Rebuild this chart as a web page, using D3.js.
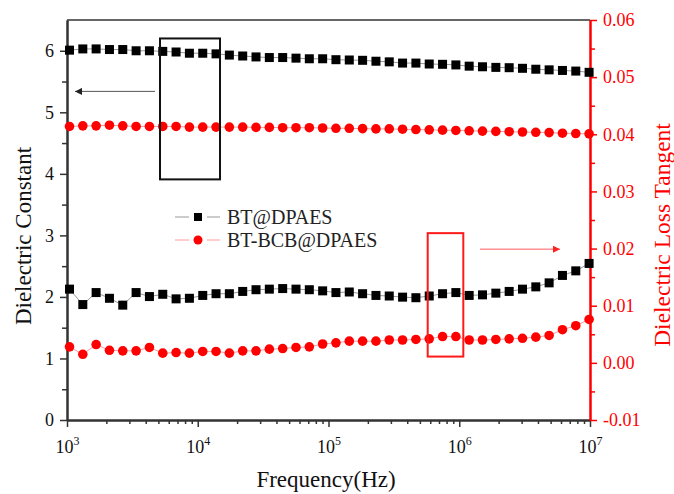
<!DOCTYPE html>
<html>
<head>
<meta charset="utf-8">
<script src="https://cdn.jsdelivr.net/npm/d3@7"></script>
<style>
  body { margin: 0; background: #fff; }
  svg { display: block; }
  svg text { font-family: "Liberation Serif", "Times New Roman", serif; }
</style>
</head>
<body>
<svg id="chart"></svg>
<script>
// Frequencies (Hz), one per measured point
const freq = [1045, 1321, 1670, 2112, 2670, 3377, 4270, 5400, 6828, 8634,
  10920, 13800, 17450, 22070, 27900, 35280, 44620, 56420, 71340, 90200,
  114000, 144200, 182300, 230600, 291500, 368600, 466100, 589400, 745300, 942100,
  1191000, 1506000, 1905000, 2409000, 3046000, 3851000, 4869000, 6157000, 7785000, 9842000];

// Dielectric constant (left axis)
const dkBT = [6.01, 6.03, 6.03, 6.02, 6.02, 6.00, 6.00, 5.99, 5.98, 5.96,
  5.96, 5.95, 5.93, 5.915, 5.90, 5.89, 5.89, 5.88, 5.87, 5.87,
  5.855, 5.85, 5.845, 5.83, 5.82, 5.80, 5.80, 5.785, 5.78, 5.77,
  5.75, 5.74, 5.73, 5.725, 5.715, 5.70, 5.69, 5.68, 5.67, 5.65];
const dkBCB = [4.77, 4.78, 4.78, 4.79, 4.78, 4.77, 4.77, 4.77, 4.77, 4.76,
  4.76, 4.76, 4.76, 4.76, 4.755, 4.755, 4.75, 4.75, 4.75, 4.745,
  4.74, 4.74, 4.735, 4.73, 4.73, 4.725, 4.72, 4.715, 4.71, 4.705,
  4.70, 4.695, 4.69, 4.685, 4.68, 4.675, 4.67, 4.66, 4.655, 4.65];

// Dielectric loss tangent (right axis)
const tanBT = [0.0129, 0.0102, 0.0123, 0.0113, 0.0101, 0.0123, 0.0116, 0.0120, 0.0112, 0.0113,
  0.0118, 0.0121, 0.0121, 0.0125, 0.0128, 0.0129, 0.0130, 0.0129, 0.0128, 0.0126,
  0.0123, 0.0124, 0.0121, 0.0118, 0.0117, 0.0115, 0.0114, 0.0117, 0.0121, 0.0123,
  0.0118, 0.0119, 0.0122, 0.0125, 0.0129, 0.0133, 0.0140, 0.0153, 0.0161, 0.0174];
const tanBCB = [0.0028, 0.0015, 0.0032, 0.0022, 0.0021, 0.0021, 0.0027, 0.0017, 0.0018, 0.0017,
  0.0020, 0.0020, 0.0017, 0.0021, 0.0021, 0.0024, 0.0025, 0.0027, 0.0028, 0.0033,
  0.0035, 0.0038, 0.0038, 0.0038, 0.0040, 0.0040, 0.0041, 0.0042, 0.0046, 0.0046,
  0.0040, 0.0040, 0.0041, 0.0042, 0.0043, 0.0045, 0.0048, 0.0058, 0.0065, 0.0076];

const seriesNames = ['BT@DPAES', 'BT-BCB@DPAES'];

// Tick values
const xDecades = [1e3, 1e4, 1e5, 1e6, 1e7];
const yLeftTicks = [0, 1, 2, 3, 4, 5, 6];
const yRightTicks = [-0.01, 0, 0.01, 0.02, 0.03, 0.04, 0.05, 0.06];

// Annotations: boxes [x0, x1, y0, y1] and arrows [xFrom, xTo, y]
const boxLeft = [5145, 14800, 3.91, 6.2];
const boxRight = [573800, 1074000, 0.0011, 0.0227];
const arrowLeft = [4710, 1151, 5.34];
const arrowRight = [1441000, 5896000, 0.0199];

const w = 674, h = 494;
const plotLeft = 67, plotRight = 590, plotTop = 20, plotBottom = 420;

const svg = d3.select('#chart').attr('width', w).attr('height', h);

const xScale = d3.scaleLog().domain([1e3, 1e7]).range([plotLeft, plotRight]);
const yLeft = d3.scaleLinear().domain([0, 6.5]).range([plotBottom, plotTop]);
const yRight = d3.scaleLinear().domain([-0.01, 0.06]).range([plotBottom, plotTop]);

// arrow heads
const defs = svg.append('defs');
const addHead = (id, color) => defs.append('marker')
  .attr('id', id).attr('viewBox', '0 0 10 10').attr('refX', 10).attr('refY', 5)
  .attr('markerWidth', 9).attr('markerHeight', 7).attr('markerUnits', 'userSpaceOnUse')
  .attr('orient', 'auto')
  .append('path').attr('d', 'M0,0L10,5L0,10Z').attr('fill', color);
addHead('headBlack', '#222');
addHead('headRed', '#ff2020');

// ---- axes ----
const styleAxis = (g, color) => {
  g.attr('color', color).attr('font-size', null).attr('font-family', null);
  g.select('.domain').attr('stroke-width', 2);
  g.selectAll('.tick line').attr('stroke-width', 1.5);
  g.selectAll('.tick text').attr('font-size', 18);
};

// bottom
const minorX = [];
[1e3, 1e4, 1e5, 1e6].forEach(d => { for (let m = 2; m < 10; m++) minorX.push(d * m); });
svg.append('g').attr('transform', `translate(0, ${plotBottom})`)
  .call(d3.axisBottom(xScale).tickValues(minorX).tickSize(4).tickSizeOuter(0).tickFormat(''))
  .call(g => styleAxis(g, '#333'));
const gx = svg.append('g').attr('transform', `translate(0, ${plotBottom})`)
  .call(d3.axisBottom(xScale).tickValues(xDecades).tickSize(7).tickSizeOuter(0))
  .call(g => styleAxis(g, '#333'));
gx.selectAll('.tick text').attr('y', 33).attr('dy', null).attr('fill', '#111')
  .each(function (d) {
    const t = d3.select(this).text('');
    t.append('tspan').text('10');
    t.append('tspan').attr('dy', -8).attr('font-size', 12).text(Math.round(Math.log10(d)));
  });

// left
svg.append('g').attr('transform', `translate(${plotLeft}, 0)`)
  .call(d3.axisLeft(yLeft).tickValues(d3.range(0.5, 6, 1)).tickSize(5).tickSizeOuter(0).tickFormat(''))
  .call(g => styleAxis(g, '#333'));
svg.append('g').attr('transform', `translate(${plotLeft}, 0)`)
  .call(d3.axisLeft(yLeft).tickValues(yLeftTicks).tickSize(7).tickPadding(6).tickSizeOuter(0)
    .tickFormat(d3.format('d')))
  .call(g => styleAxis(g, '#333'))
  .selectAll('.tick text').attr('fill', '#111');

// right
svg.append('g').attr('transform', `translate(${plotRight}, 0)`)
  .call(d3.axisRight(yRight).tickValues(d3.range(-0.005, 0.06, 0.01)).tickSize(5).tickSizeOuter(0).tickFormat(''))
  .call(g => styleAxis(g, '#ff0000'));
svg.append('g').attr('transform', `translate(${plotRight}, 0)`)
  .call(d3.axisRight(yRight).tickValues(yRightTicks).tickSize(7).tickPadding(6).tickSizeOuter(0)
    .tickFormat(d => d.toFixed(2)))
  .call(g => styleAxis(g, '#ff0000'));

// top frame line
svg.append('line').attr('x1', plotLeft).attr('x2', plotRight).attr('y1', plotTop).attr('y2', plotTop)
  .attr('stroke', '#333').attr('stroke-width', 1.5);

// axis titles
svg.append('text').attr('x', 326).attr('y', 487).attr('text-anchor', 'middle')
  .attr('font-size', 23).attr('fill', '#111').text('Frequency(Hz)');
svg.append('text').attr('transform', 'translate(31, 236) rotate(-90)').attr('text-anchor', 'middle')
  .attr('font-size', 23).attr('fill', '#111').text('Dielectric Constant');
svg.append('text').attr('transform', 'translate(670, 235) rotate(-90)').attr('text-anchor', 'middle')
  .attr('font-size', 23.5).attr('fill', '#ff0000').text('Dielectric Loss Tangent');

// ---- series ----
const plotSeries = (values, yScale, kind) => {
  const pts = freq.map((f, i) => [xScale(f), yScale(values[i])]);
  const black = kind === 'square';
  svg.append('path').attr('d', d3.line()(pts)).attr('fill', 'none')
    .attr('stroke', black ? '#999' : '#ff9a9a').attr('stroke-width', 1);
  if (black) {
    svg.append('g').selectAll('rect').data(pts).enter().append('rect')
      .attr('x', d => d[0] - 4.5).attr('y', d => d[1] - 4.5)
      .attr('width', 9).attr('height', 9).attr('fill', '#000');
  } else {
    svg.append('g').selectAll('circle').data(pts).enter().append('circle')
      .attr('cx', d => d[0]).attr('cy', d => d[1]).attr('r', 4.8).attr('fill', '#ff0000');
  }
};
plotSeries(dkBT, yLeft, 'square');
plotSeries(dkBCB, yLeft, 'circle');
plotSeries(tanBT, yRight, 'square');
plotSeries(tanBCB, yRight, 'circle');

// ---- annotations ----
svg.append('rect')
  .attr('x', xScale(boxLeft[0])).attr('y', yLeft(boxLeft[3]))
  .attr('width', xScale(boxLeft[1]) - xScale(boxLeft[0]))
  .attr('height', yLeft(boxLeft[2]) - yLeft(boxLeft[3]))
  .attr('fill', 'none').attr('stroke', '#111').attr('stroke-width', 2);
svg.append('rect')
  .attr('x', xScale(boxRight[0])).attr('y', yRight(boxRight[3]))
  .attr('width', xScale(boxRight[1]) - xScale(boxRight[0]))
  .attr('height', yRight(boxRight[2]) - yRight(boxRight[3]))
  .attr('fill', 'none').attr('stroke', '#ff1a1a').attr('stroke-width', 2);

svg.append('line')
  .attr('x1', xScale(arrowLeft[0])).attr('x2', xScale(arrowLeft[1]))
  .attr('y1', yLeft(arrowLeft[2])).attr('y2', yLeft(arrowLeft[2]))
  .attr('stroke', '#555').attr('stroke-width', 1).attr('marker-end', 'url(#headBlack)');
svg.append('line')
  .attr('x1', xScale(arrowRight[0])).attr('x2', xScale(arrowRight[1]))
  .attr('y1', yRight(arrowRight[2])).attr('y2', yRight(arrowRight[2]))
  .attr('stroke', '#ff5a5a').attr('stroke-width', 1).attr('marker-end', 'url(#headRed)');

// ---- legend ----
const legend = svg.append('g').attr('transform', 'translate(175, 217)');
seriesNames.forEach((name, i) => {
  const g = legend.append('g').attr('transform', `translate(0, ${i * 23})`);
  const lineColor = i === 0 ? '#999' : '#ff9a9a';
  g.append('line').attr('x1', 0).attr('x2', 14).attr('stroke', lineColor);
  g.append('line').attr('x1', 32).attr('x2', 45).attr('stroke', lineColor);
  if (i === 0) {
    g.append('rect').attr('x', 19).attr('y', -4).attr('width', 8).attr('height', 8).attr('fill', '#000');
  } else {
    g.append('circle').attr('cx', 23).attr('cy', 0).attr('r', 4.5).attr('fill', '#ff0000');
  }
  g.append('text').attr('x', 52).attr('y', 7).attr('font-size', 20).attr('fill', '#222').text(name);
});
</script>
</body>
</html>
